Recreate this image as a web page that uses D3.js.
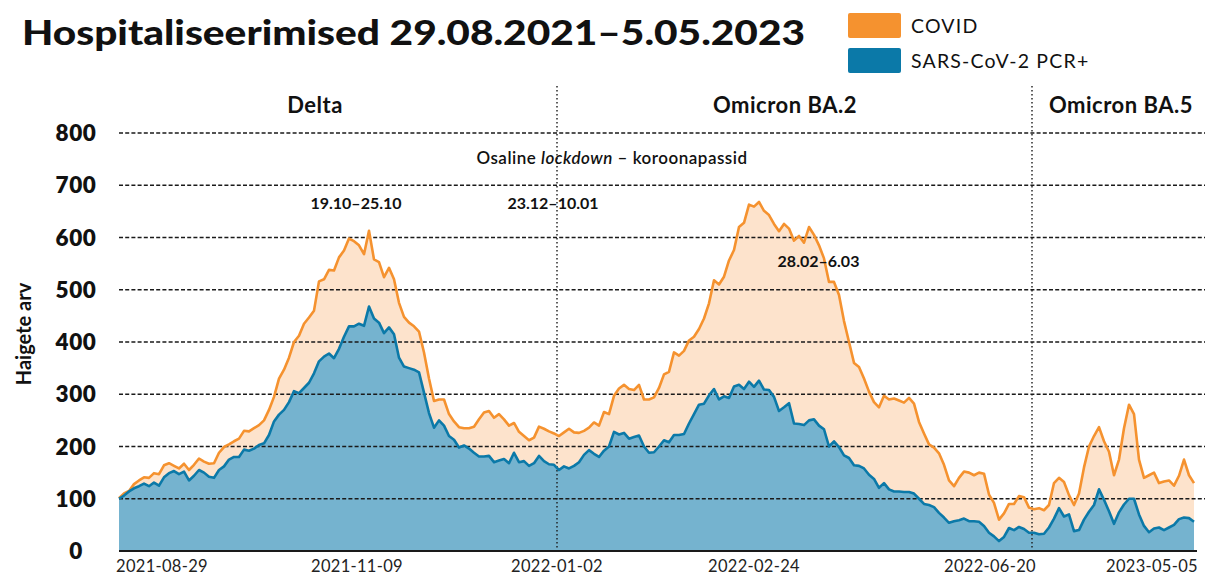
<!DOCTYPE html>
<html>
<head>
<meta charset="utf-8">
<script src="https://cdn.jsdelivr.net/npm/d3@7"></script>
<style>
  html, body { margin: 0; padding: 0; background: #fff; }
  svg { display: block; font-family: Lato, "Open Sans", sans-serif; }
</style>
</head>
<body>
<svg id="chart" width="1205" height="577"></svg>
<script>
// Hospitalised patients, one value per sample step (29.08.2021 – 5.05.2023)
const covid = [
  101,110,115,128,135,141,140,149,147,164,
  168,163,158,167,155,165,177,171,167,168,
  188,199,204,210,215,230,229,235,241,250,
  270,295,330,347,370,400,412,435,447,460,
  516,520,538,537,562,575,598,593,585,568,
  613,558,553,524,542,520,475,448,437,430,
  420,380,330,287,290,290,262,248,237,235,
  235,238,252,265,268,255,262,252,240,245,
  228,220,212,217,238,234,229,225,220,227,
  234,227,226,230,236,246,240,266,262,297,
  311,318,310,308,318,290,290,294,312,338,
  343,380,374,383,403,410,425,445,474,518,
  510,525,556,576,620,628,663,659,668,651,
  643,626,612,626,617,594,603,590,620,605,
  585,560,515,515,490,440,400,360,352,330,
  305,285,275,297,290,292,288,284,293,282,
  247,225,204,198,187,165,135,124,140,152,
  150,145,150,148,108,92,60,72,90,90,
  105,103,83,80,82,78,88,130,140,132,
  107,88,110,160,200,220,237,210,190,145,
  175,235,280,262,175,140,145,150,130,133,
  135,125,144,175,145,130
];
const pcr = [
  100,106,114,120,124,129,124,131,125,141,
  149,153,147,152,135,144,155,150,142,140,
  155,162,175,180,180,194,192,196,203,206,
  222,248,261,270,285,306,302,312,322,340,
  363,372,378,369,387,410,430,430,435,431,
  468,445,437,417,428,415,370,353,350,347,
  342,303,264,236,250,240,220,213,198,202,
  196,188,181,181,182,170,173,176,168,188,
  170,172,163,168,182,172,166,165,155,162,
  158,163,170,184,193,186,180,192,200,228,
  223,226,215,218,221,200,188,189,200,212,
  208,222,222,224,244,262,280,282,298,310,
  290,296,293,315,318,310,324,314,326,309,
  308,295,268,275,283,244,243,241,250,252,
  240,233,200,210,199,183,178,164,163,158,
  146,138,121,130,118,114,114,113,113,110,
  100,90,88,84,73,64,54,57,59,62,
  57,57,56,48,35,28,19,27,44,40,
  46,42,35,35,32,33,45,62,82,66,
  70,38,40,60,75,88,118,98,76,52,
  74,89,100,100,70,48,36,43,45,40,
  45,50,61,64,63,56
];

// x axis labels and the sample step each one sits on
const tickLabels = ["2021-08-29", "2021-11-09", "2022-01-02", "2022-02-24", "2022-06-20", "2023-05-05"];
const tickIndex = [8.6, 47.6, 87.6, 127, 174.2, 206.6];
const yTicks = [0, 100, 200, 300, 400, 500, 600, 700, 800];

// variant periods: boundaries and headings
const phaseBreaks = [87.6, 182.6];
const phaseNames = ["Delta", "Omicron BA.2", "Omicron BA.5"];
const phaseLabelIndex = [39.2, 133.2, 200.4];

// restriction periods
const periodLabels = ["19.10–25.10", "23.12–10.01", "28.02–6.03"];
const periodIndex = [47.4, 86.8, 139.9];
const periodLevel = [665, 665, 555];

const seriesNames = ["COVID", "SARS-CoV-2 PCR+"];
const lineColors = ["#f5922f", "#0b79a8"];
const fillColors = ["#fde3cc", "#75b3cf"];

const svg = d3.select("#chart");
const n = covid.length;
const x = d3.scaleLinear().domain([0, n - 1]).range([119, 1194]);
const y = d3.scaleLinear().domain([0, 800]).range([551, 133]);

// title
svg.append("text")
  .attr("x", 22).attr("y", 45)
  .attr("font-size", 35).attr("font-weight", 900)
  .attr("textLength", 783).attr("lengthAdjust", "spacingAndGlyphs")
  .attr("fill", "#111")
  .text("Hospitaliseerimised 29.08.2021–5.05.2023");

// legend
const legend = svg.append("g");
seriesNames.forEach((name, i) => {
  legend.append("rect")
    .attr("x", 848).attr("y", 13 + i * 35)
    .attr("width", 53).attr("height", 25).attr("rx", 2)
    .attr("fill", lineColors[i]);
  legend.append("text")
    .attr("x", 911).attr("y", 26 + i * 35)
    .attr("dy", "0.35em")
    .attr("font-size", 19.5).attr("letter-spacing", 1.2).attr("fill", "#111")
    .text(name);
});

// areas
const areaCovid = d3.area().x((d, i) => x(i)).y0(y(0)).y1(d => y(d));
const areaPcr = d3.area().x((d, i) => x(i)).y0(y(0)).y1(d => y(d));
svg.append("path").datum(covid).attr("d", areaCovid).attr("fill", fillColors[0]);
svg.append("path").datum(pcr).attr("d", areaPcr).attr("fill", fillColors[1]);

// horizontal grid
svg.append("g").selectAll("line")
  .data(yTicks.filter(t => t > 0))
  .join("line")
  .attr("x1", 119).attr("x2", 1205)
  .attr("y1", d => y(d)).attr("y2", d => y(d))
  .attr("stroke", "#1a1a1a").attr("stroke-width", 1.4)
  .attr("stroke-dasharray", "4,2.2");

// variant boundaries
svg.append("g").selectAll("line")
  .data(phaseBreaks)
  .join("line")
  .attr("x1", d => x(d)).attr("x2", d => x(d))
  .attr("y1", 86).attr("y2", y(0))
  .attr("stroke", "#1a1a1a").attr("stroke-width", 1.4)
  .attr("stroke-dasharray", "1.4,2.6");

// lines
const line = d3.line().x((d, i) => x(i)).y(d => y(d));
svg.append("path").datum(covid).attr("d", line)
  .attr("fill", "none").attr("stroke", lineColors[0])
  .attr("stroke-width", 2.6).attr("stroke-linejoin", "round");
svg.append("path").datum(pcr).attr("d", line)
  .attr("fill", "none").attr("stroke", lineColors[1])
  .attr("stroke-width", 2.6).attr("stroke-linejoin", "round");

// baseline
svg.append("line")
  .attr("x1", 119).attr("x2", 1197)
  .attr("y1", y(0)).attr("y2", y(0))
  .attr("stroke", "#1a1a1a").attr("stroke-width", 2);

// y axis labels
svg.append("g").selectAll("text")
  .data(yTicks)
  .join("text")
  .attr("x", 76).attr("y", d => y(d))
  .attr("dy", "0.36em").attr("text-anchor", "middle")
  .attr("font-size", 22.5).attr("font-weight", 800).attr("letter-spacing", 0.6).attr("fill", "#111")
  .text(d => d);

svg.append("text")
  .attr("transform", "translate(31,334) rotate(-90)")
  .attr("text-anchor", "middle")
  .attr("font-size", 20).attr("font-weight", 700).attr("fill", "#111")
  .text("Haigete arv");

// x axis labels
svg.append("g").selectAll("text")
  .data(tickLabels)
  .join("text")
  .attr("x", (d, i) => x(tickIndex[i])).attr("y", 572)
  .attr("text-anchor", "middle")
  .attr("font-size", 16.5).attr("letter-spacing", 0.3).attr("fill", "#222")
  .text(d => d);

// variant headings
svg.append("g").selectAll("text")
  .data(phaseNames)
  .join("text")
  .attr("x", (d, i) => x(phaseLabelIndex[i])).attr("y", 113)
  .attr("text-anchor", "middle")
  .attr("font-size", 22).attr("font-weight", 700).attr("letter-spacing", 0.5).attr("fill", "#111")
  .text(d => d);

// lockdown note
const note = svg.append("text")
  .attr("x", 612).attr("y", 164)
  .attr("text-anchor", "middle")
  .attr("font-size", 17).attr("font-weight", 600).attr("letter-spacing", 0.5).attr("fill", "#111");
note.append("tspan").text("Osaline ");
note.append("tspan").attr("font-style", "italic").text("lockdown");
note.append("tspan").text(" – koroonapassid");

// restriction periods
svg.append("g").selectAll("text")
  .data(periodLabels)
  .join("text")
  .attr("x", (d, i) => x(periodIndex[i])).attr("y", (d, i) => y(periodLevel[i]))
  .attr("dy", "0.35em")
  .attr("text-anchor", "middle")
  .attr("font-size", 16).attr("font-weight", 700).attr("fill", "#111")
  .text(d => d);
</script>
</body>
</html>
